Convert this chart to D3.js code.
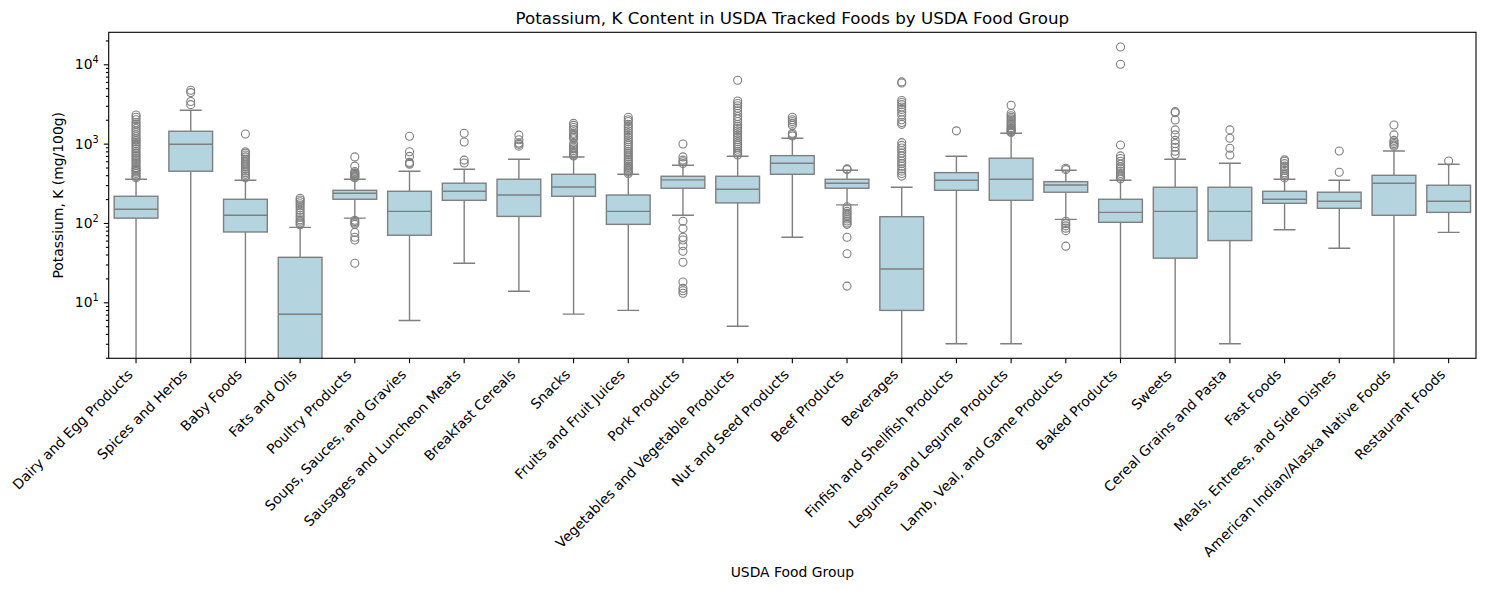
<!DOCTYPE html>
<html>
<head>
<meta charset="utf-8">
<script src="https://cdn.jsdelivr.net/npm/d3@7"></script>
<style>
  html, body { margin: 0; padding: 0; background: #fff; }
  svg { display: block; font-family: "DejaVu Sans", sans-serif; }
</style>
</head>
<body>
<svg id="chart" width="1485" height="590"></svg>
<script>
const categories = [
  "Dairy and Egg Products", "Spices and Herbs", "Baby Foods", "Fats and Oils",
  "Poultry Products", "Soups, Sauces, and Gravies", "Sausages and Luncheon Meats",
  "Breakfast Cereals", "Snacks", "Fruits and Fruit Juices", "Pork Products",
  "Vegetables and Vegetable Products", "Nut and Seed Products", "Beef Products",
  "Beverages", "Finfish and Shellfish Products", "Legumes and Legume Products",
  "Lamb, Veal, and Game Products", "Baked Products", "Sweets",
  "Cereal Grains and Pasta", "Fast Foods", "Meals, Entrees, and Side Dishes",
  "American Indian/Alaska Native Foods", "Restaurant Foods"
];
// values below the visible axis (zero / near-zero) are given as 0.1 and clipped
const whiskerLow = [0.1, 0.1, 0.1, 0.1, 115, 5.9, 31, 13.8, 7.1, 7.9, 125, 5.0, 66, 169, 0.1, 3.0, 3.0, 111, 0.1, 0.1, 3.0, 82, 48, 0.1, 76];
const q1         = [115, 449, 77, 0.1, 199, 70, 193, 121, 217, 96, 274, 179, 411, 274, 7.9, 258, 193, 244, 102, 36, 60, 177, 153, 125, 136];
const medians    = [149, 983, 125, 7.06, 237, 140, 251, 225, 284, 140, 349, 266, 566, 317, 26.3, 345, 356, 301, 136, 140, 140, 199, 188, 317, 188];
const q3         = [217, 1433, 199, 36.9, 258, 251, 317, 356, 411, 225, 388, 388, 706, 356, 120, 431, 655, 332, 199, 282, 282, 251, 244, 399, 299];
const whiskerHigh= [356, 2637, 345, 88, 356, 449, 476, 635, 679, 411, 534, 693, 1170, 462, 282, 693, 1353, 462, 345, 635, 566, 356, 345, 809, 550];
const outliers = [
  [370,385,400,420,440,460,480,500,530,560,590,620,650,690,720,760,800,850,900,950,1000,1050,1100,1150,1220,1300,1380,1450,1550,1650,1750,1850,2000,2150,2300],
  [3100,3400,4400,4700],
  [370,390,410,430,450,480,510,540,570,600,640,680,720,760,790,1320],
  [95,100,105,110,118,125,135,145,155,165,175,185,195,205],
  [370,380,390,400,410,420,430,445,520,680,108,104,100,96,76,66,61,31],
  [550,565,580,690,790,1240],
  [570,620,1050,1350],
  [930,980,1020,1120,1280],
  [700,720,750,780,820,860,900,950,1000,1150,1200,1250,1300,1350,1500,1600,1700,1800],
  [420,440,460,480,500,520,550,580,610,640,680,720,760,800,850,900,950,1000,1060,1120,1200,1280,1360,1450,1550,1650,1750,1900,2000,2150],
  [560,590,620,680,990,105,85,66,61,52,44,32,18,15,14,13],
  [720,760,800,850,900,950,1000,1060,1120,1200,1280,1360,1450,1550,1650,1750,1900,2050,2200,2400,2600,2800,3000,3200,3450,6300],
  [1250,1300,1350,1700,1800,1900,2000,2150],
  [470,480,160,150,140,132,125,118,112,106,100,96,66,41,16],
  [390,420,450,480,520,560,600,650,700,760,820,880,950,1030,1750,1850,2000,2300,2500,2700,2900,3100,3300,3500,5800,6000],
  [1450],
  [1380,1420,1460,1500,1550,1600,1680,1750,1850,1950,2050,2150,2250,2400,3050],
  [470,490,105,98,92,86,80,51],
  [360,380,400,420,450,480,510,550,600,650,700,960,10000,16500],
  [730,800,900,1000,1100,1290,1490,1990,2450,2530],
  [720,875,1170,1490],
  [370,390,410,430,460,490,520,560,600,625],
  [436,809],
  [930,960,1000,1050,1100,1290,1720],
  [605]
];
const yMajorTicks = [10, 100, 1000, 10000];
const yMajorLabels = ["1", "2", "3", "4"]; // exponents of 10
const title = "Potassium, K Content in USDA Tracked Foods by USDA Food Group";
const xTitle = "USDA Food Group";
const yTitle = "Potassium, K (mg/100g)";

const svg = d3.select("#chart");
const L = 108.7, R = 1476, T = 32.3, B = 358.3;
const fill = "#b4d4df", line = "#7f7f7f";

const x = d3.scaleBand().domain(categories).range([L, R]).paddingInner(0.2).paddingOuter(0.1);
const y = d3.scaleLog().domain([Math.pow(10, 0.2941), Math.pow(10, 4.4034)]).range([B, T]);

svg.append("defs").append("clipPath").attr("id", "clip")
  .append("rect").attr("x", L).attr("y", T).attr("width", R - L).attr("height", B - T);

const g = svg.append("g").attr("clip-path", "url(#clip)");
const bw = x.bandwidth();

categories.forEach((c, i) => {
  const cx = x(c) + bw / 2;
  const grp = g.append("g");
  // lower whisker
  grp.append("line").attr("x1", cx).attr("x2", cx).attr("y1", y(q1[i])).attr("y2", y(whiskerLow[i]))
    .attr("stroke", line).attr("stroke-width", 1.4);
  grp.append("line").attr("x1", cx - bw / 4).attr("x2", cx + bw / 4).attr("y1", y(whiskerLow[i])).attr("y2", y(whiskerLow[i]))
    .attr("stroke", line).attr("stroke-width", 1.4);
  // upper whisker
  grp.append("line").attr("x1", cx).attr("x2", cx).attr("y1", y(q3[i])).attr("y2", y(whiskerHigh[i]))
    .attr("stroke", line).attr("stroke-width", 1.4);
  grp.append("line").attr("x1", cx - bw / 4).attr("x2", cx + bw / 4).attr("y1", y(whiskerHigh[i])).attr("y2", y(whiskerHigh[i]))
    .attr("stroke", line).attr("stroke-width", 1.4);
  // box
  grp.append("rect").attr("x", x(c)).attr("width", bw)
    .attr("y", y(q3[i])).attr("height", y(q1[i]) - y(q3[i]))
    .attr("fill", fill).attr("stroke", line).attr("stroke-width", 1.4);
  // median
  grp.append("line").attr("x1", x(c)).attr("x2", x(c) + bw).attr("y1", y(medians[i])).attr("y2", y(medians[i]))
    .attr("stroke", line).attr("stroke-width", 1.4);
  // outliers
  grp.selectAll("circle.o").data(outliers[i]).enter().append("circle")
    .attr("cx", cx).attr("cy", d => y(d)).attr("r", 4)
    .attr("fill", "none").attr("stroke", line).attr("stroke-width", 1.1);
});

// frame
svg.append("rect").attr("x", L).attr("y", T).attr("width", R - L).attr("height", B - T)
  .attr("fill", "none").attr("stroke", "#000").attr("stroke-width", 1.1);

// y axis
const minorTicks = [];
[1, 10, 100, 1000, 10000].forEach(d => { for (let k = 2; k <= 9; k++) { const v = d * k; if (v >= y.domain()[0] && v <= y.domain()[1]) minorTicks.push(v); } });
const yAxisMinor = d3.axisLeft(y).tickValues(minorTicks).tickSize(2.8).tickFormat("");
const yAxisMajor = d3.axisLeft(y).tickValues(yMajorTicks).tickSize(4.9).tickFormat("");
[yAxisMinor, yAxisMajor].forEach(ax => {
  const a = svg.append("g").attr("transform", `translate(${L},0)`).call(ax);
  a.select(".domain").remove();
  a.selectAll(".tick line").attr("stroke", "#000").attr("stroke-width", 1.1);
});
yMajorTicks.forEach((v, i) => {
  const t = svg.append("text").attr("x", L - 10).attr("y", y(v) + 5)
    .attr("text-anchor", "end").attr("font-size", 13.9).attr("fill", "#000");
  t.append("tspan").text("10");
  t.append("tspan").attr("font-size", 9.7).attr("dy", -6).text(yMajorLabels[i]);
});

// x axis
const xAxis = d3.axisBottom(x).tickSize(4.9).tickFormat("");
const xa = svg.append("g").attr("transform", `translate(0,${B})`).call(xAxis);
xa.select(".domain").remove();
xa.selectAll(".tick line").attr("stroke", "#000").attr("stroke-width", 1.1);
categories.forEach(c => {
  const cx = x(c) + bw / 2;
  svg.append("text").attr("transform", `translate(${cx - 2.5},${B + 17}) rotate(-45)`)
    .attr("text-anchor", "end").attr("font-size", 13.9).attr("fill", "#000").text(c);
});

// titles
svg.append("text").attr("x", (L + R) / 2).attr("y", 24).attr("text-anchor", "middle")
  .attr("font-size", 16.7).attr("fill", "#000").text(title);
svg.append("text").attr("x", (L + R) / 2).attr("y", 577).attr("text-anchor", "middle")
  .attr("font-size", 13.9).attr("fill", "#000").text(xTitle);
svg.append("text").attr("transform", `translate(63,${(T + B) / 2}) rotate(-90)`).attr("text-anchor", "middle")
  .attr("font-size", 13.9).attr("fill", "#000").text(yTitle);
</script>
</body>
</html>
